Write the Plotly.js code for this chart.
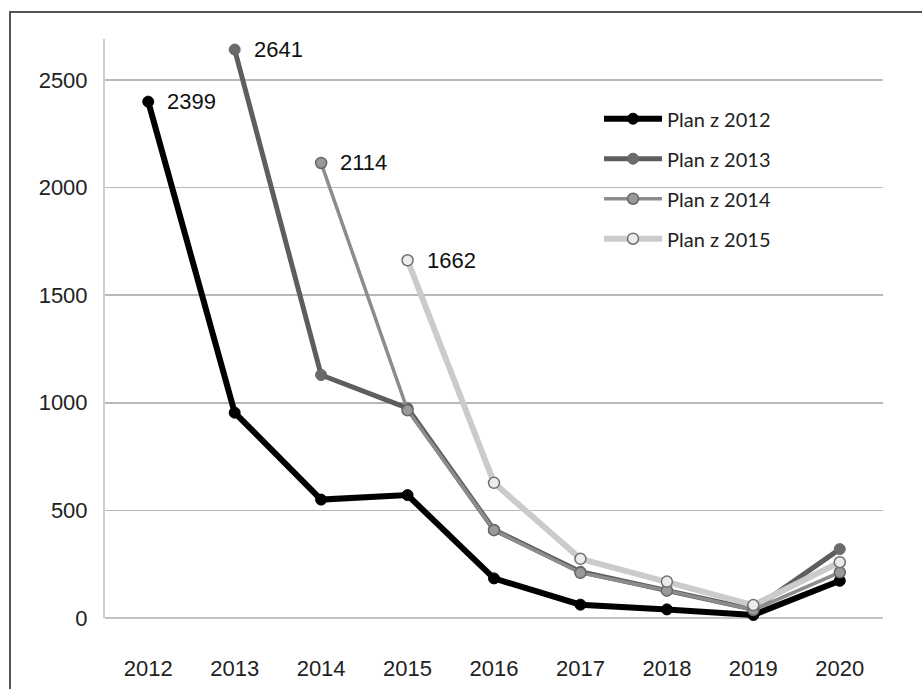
<!DOCTYPE html>
<html>
<head>
<meta charset="utf-8">
<script src="https://cdn.plot.ly/plotly-3.0.1.min.js"></script>
<style>
  html, body { margin: 0; padding: 0; background: #fff; }
  #wrap { position: relative; width: 922px; height: 689px; overflow: hidden; }
  #plot { position: absolute; left: 0; top: 0; width: 922px; height: 689px; }
  #frame { position: absolute; left: 9px; top: 11px; width: 930px; height: 700px;
           border-left: 2px solid #555; border-top: 2px solid #555; pointer-events: none; }
</style>
</head>
<body>
<div id="wrap">
  <div id="plot"></div>
  <div id="frame"></div>
</div>
<script>
// ---- data ----
const years = ["2012", "2013", "2014", "2015", "2016", "2017", "2018", "2019", "2020"];
const seriesNames = ["Plan z 2012", "Plan z 2013", "Plan z 2014", "Plan z 2015"];
const plan2012 = [2399, 954, 550, 571, 184, 62, 40, 14, 173];
const plan2013 = [null, 2641, 1129, 975, 410, 215, 130, 40, 320];
const plan2014 = [null, null, 2114, 965, 408, 210, 127, 37, 212];
const plan2015 = [null, null, null, 1662, 628, 275, 169, 60, 259];
const yTicks = [0, 500, 1000, 1500, 2000, 2500];

// ---- styles ----
const styles = [
  { line: { color: "#000000", width: 6 }, marker: { color: "#000000", size: 11, line: { color: "#000000", width: 1 } } },
  { line: { color: "#5e5e5e", width: 5 }, marker: { color: "#6a6a6a", size: 11, line: { color: "#666666", width: 1 } } },
  { line: { color: "#8c8c8c", width: 3.5 }, marker: { color: "#999999", size: 11, line: { color: "#666666", width: 1.5 } } },
  { line: { color: "#cbcbcb", width: 6 }, marker: { color: "#ececec", size: 11, line: { color: "#707070", width: 1.5 } } }
];

const allSeries = [plan2012, plan2013, plan2014, plan2015];

const traces = allSeries.map((vals, i) => ({
  type: "scatter",
  mode: "lines+markers",
  x: years,
  y: vals,
  name: seriesNames[i],
  legendgroup: "g" + i,
  line: styles[i].line,
  marker: Object.assign({ symbol: "circle" }, styles[i].marker),
  connectgaps: false,
  cliponaxis: false,
  hoverinfo: "x+y+name"
}));

// value labels at each series' first point (category axis: position by index)
const annotations = allSeries.map((vals) => {
  const idx = vals.findIndex(v => v !== null);
  return {
    x: idx, y: vals[idx], xref: "x", yref: "y",
    text: String(vals[idx]), showarrow: false,
    xanchor: "left", yanchor: "middle", xshift: 17, yshift: 0,
    font: { family: "Arial, Liberation Sans, sans-serif", size: 22, color: "#111" }
  };
});

const layout = {
  width: 922, height: 689,
  margin: { l: 105, r: 39, t: 39, b: 71, pad: 0 },
  paper_bgcolor: "#ffffff",
  plot_bgcolor: "#ffffff",
  showlegend: true,
  legend: {
    x: 0.635, y: 0.896, xanchor: "left", yanchor: "top",
    bgcolor: "rgba(0,0,0,0)",
    font: { family: "Lato, Open Sans, sans-serif", size: 20, color: "#222" },
    tracegroupgap: 11,
    itemwidth: 58,
    traceorder: "grouped"
  },
  xaxis: {
    type: "category",
    range: [-0.5, 8.5],
    showgrid: false,
    showline: false,
    zeroline: false,
    ticks: "outside", ticklen: 31, tickcolor: "rgba(0,0,0,0)",
    tickfont: { family: "Arial, Liberation Sans, sans-serif", size: 22, color: "#222" },
    fixedrange: true
  },
  yaxis: {
    range: [0, 2690],
    tickvals: yTicks,
    ticktext: yTicks.map(String),
    showgrid: true, gridcolor: "#b8b8b8", gridwidth: 1.5,
    zeroline: true, zerolinecolor: "#c4c4c4", zerolinewidth: 2.5,
    showline: true, linecolor: "#cfcfcf", linewidth: 2,
    ticks: "outside", ticklen: 11, tickcolor: "rgba(0,0,0,0)",
    tickfont: { family: "Arial, Liberation Sans, sans-serif", size: 22, color: "#222" },
    fixedrange: true
  },
  annotations: annotations
};

Plotly.newPlot("plot", traces, layout, { displayModeBar: false, staticPlot: true });
</script>
</body>
</html>
